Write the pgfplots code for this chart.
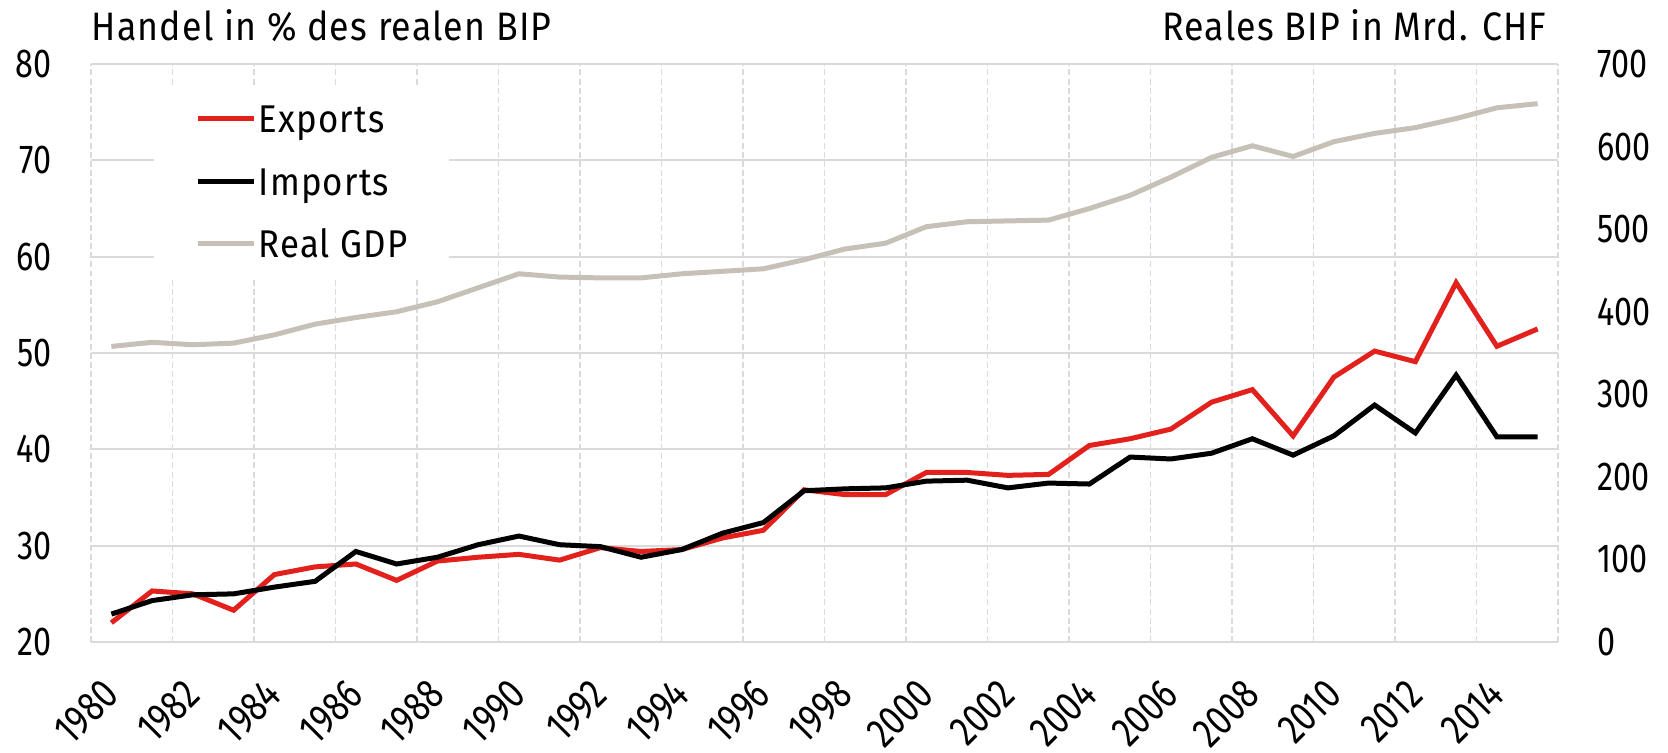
\documentclass[border=0pt]{standalone}
\usepackage{fontspec}
\setmainfont{Fira Sans}[FakeStretch=0.9, LetterSpace=3]
\newfontfamily\tickfont{Fira Sans}[FakeStretch=0.8]
\usepackage{pgfplots}
\usepackage{pgfplotstable}
\pgfplotsset{compat=1.18}

\definecolor{expred}{RGB}{226,33,29}
\definecolor{gdpgray}{RGB}{198,192,183}
\definecolor{gridgray}{RGB}{218,218,218}

% trade in % of real GDP (left axis), real GDP in bn CHF (right axis)
\pgfplotstableread{
year exp  imp  gdp
1980 22.0 22.9 358
1981 25.3 24.3 363
1982 25.0 24.9 360
1983 23.3 25.0 362
1984 27.0 25.7 372
1985 27.8 26.3 385
1986 28.1 29.4 393
1987 26.4 28.1 400
1988 28.4 28.8 412
1989 28.8 30.1 429
1990 29.1 31.0 446
1991 28.5 30.1 442
1992 29.8 29.9 441
1993 29.4 28.8 441
1994 29.6 29.6 446
1995 30.8 31.3 449
1996 31.6 32.4 452
1997 35.8 35.7 463
1998 35.3 35.9 476
1999 35.3 36.0 483
2000 37.6 36.7 503
2001 37.6 36.8 509
2002 37.3 36.0 510
2003 37.4 36.5 511
2004 40.4 36.4 525
2005 41.1 39.2 541
2006 42.1 39.0 563
2007 44.9 39.6 587
2008 46.2 41.1 601
2009 41.4 39.4 588
2010 47.5 41.4 606
2011 50.2 44.6 616
2012 49.1 41.7 623
2013 57.3 47.7 634
2014 50.7 41.3 647
2015 52.5 41.3 652
}\trade

\begin{document}
\begin{tikzpicture}[font=\fontsize{11.5}{13}\selectfont]
\path[use as bounding box] (-9.1mm,-11mm) rectangle (157.7mm,64.2mm);

\pgfplotsset{
  base/.style={
    scale only axis, width=146.7mm, height=57.8mm,
    at={(0,0)}, anchor=south west,
    xmin=1979.5, xmax=2015.5,
    major tick length=0pt, minor tick length=0pt,
    /pgf/number format/assume math mode=true,
    /pgf/number format/1000 sep={},
  },
}

\begin{axis}[base,
  ymin=20, ymax=80, ytick={20,30,...,80},
  xtick={1980,1982,...,2014},
  minor xtick={1979.5,1981.5,...,2015.5},
  xminorgrids=true, ymajorgrids=true,
  minor grid style={gridgray, line width=0.45pt, dash pattern=on 1.7pt off 0.9pt},
  major grid style={gridgray, line width=0.5pt},
  axis x line*=bottom, axis y line*=left,
  x axis line style={gridgray, line width=0.8pt},
  y axis line style={draw=none},
  yticklabel style={anchor=east, inner sep=0pt, xshift=-3.9mm,
    font=\tickfont\fontsize{11.5}{13}\selectfont},
  xticklabel style={rotate=45, anchor=east, inner sep=0pt,
    font=\tickfont\fontsize{12}{14}\selectfont},
  xticklabel shift=4.5mm,
]
\addplot[expred, line width=0.5mm] table[x=year, y=exp] {\trade};
\addplot[black, line width=0.5mm] table[x=year, y=imp] {\trade};
\end{axis}

\begin{axis}[base,
  ymin=0, ymax=700, ytick={0,100,...,700},
  axis x line=none, axis y line*=right,
  y axis line style={draw=none},
  yticklabel style={anchor=west, inner sep=0pt, xshift=3.9mm,
    font=\tickfont\fontsize{11.5}{13}\selectfont},
  legend image code/.code={\draw[#1] (0mm,1.4mm) -- (5.6mm,1.4mm);},
  legend style={at={(rel axis cs:0.0423,0.9637)}, anchor=north west,
    draw=none, fill=white, inner xsep=4.2mm, inner ysep=0.9mm,
    row sep=1.45mm, cells={anchor=base west},
    font=\fontsize{11}{13}\selectfont,
    nodes={inner sep=0pt, text height=3.8mm, text depth=1mm},
    /tikz/every odd column/.style={column sep=0.2mm}},
]
\addlegendimage{expred, line width=0.5mm}
\addlegendentry{Exports}
\addlegendimage{black, line width=0.5mm}
\addlegendentry{Imports}
\addplot[gdpgray, line width=0.5mm] table[x=year, y=gdp] {\trade};
\addlegendentry{Real GDP}
\end{axis}

\node[anchor=base west, inner sep=0pt, font=\fontsize{11.3}{13}\selectfont]
  at (0mm,60.2mm) {Handel in \% des realen BIP};
\node[anchor=base east, inner sep=0pt, font=\fontsize{11.3}{13}\selectfont]
  at (145.6mm,60.2mm) {Reales BIP in Mrd. CHF};
\end{tikzpicture}
\end{document}
